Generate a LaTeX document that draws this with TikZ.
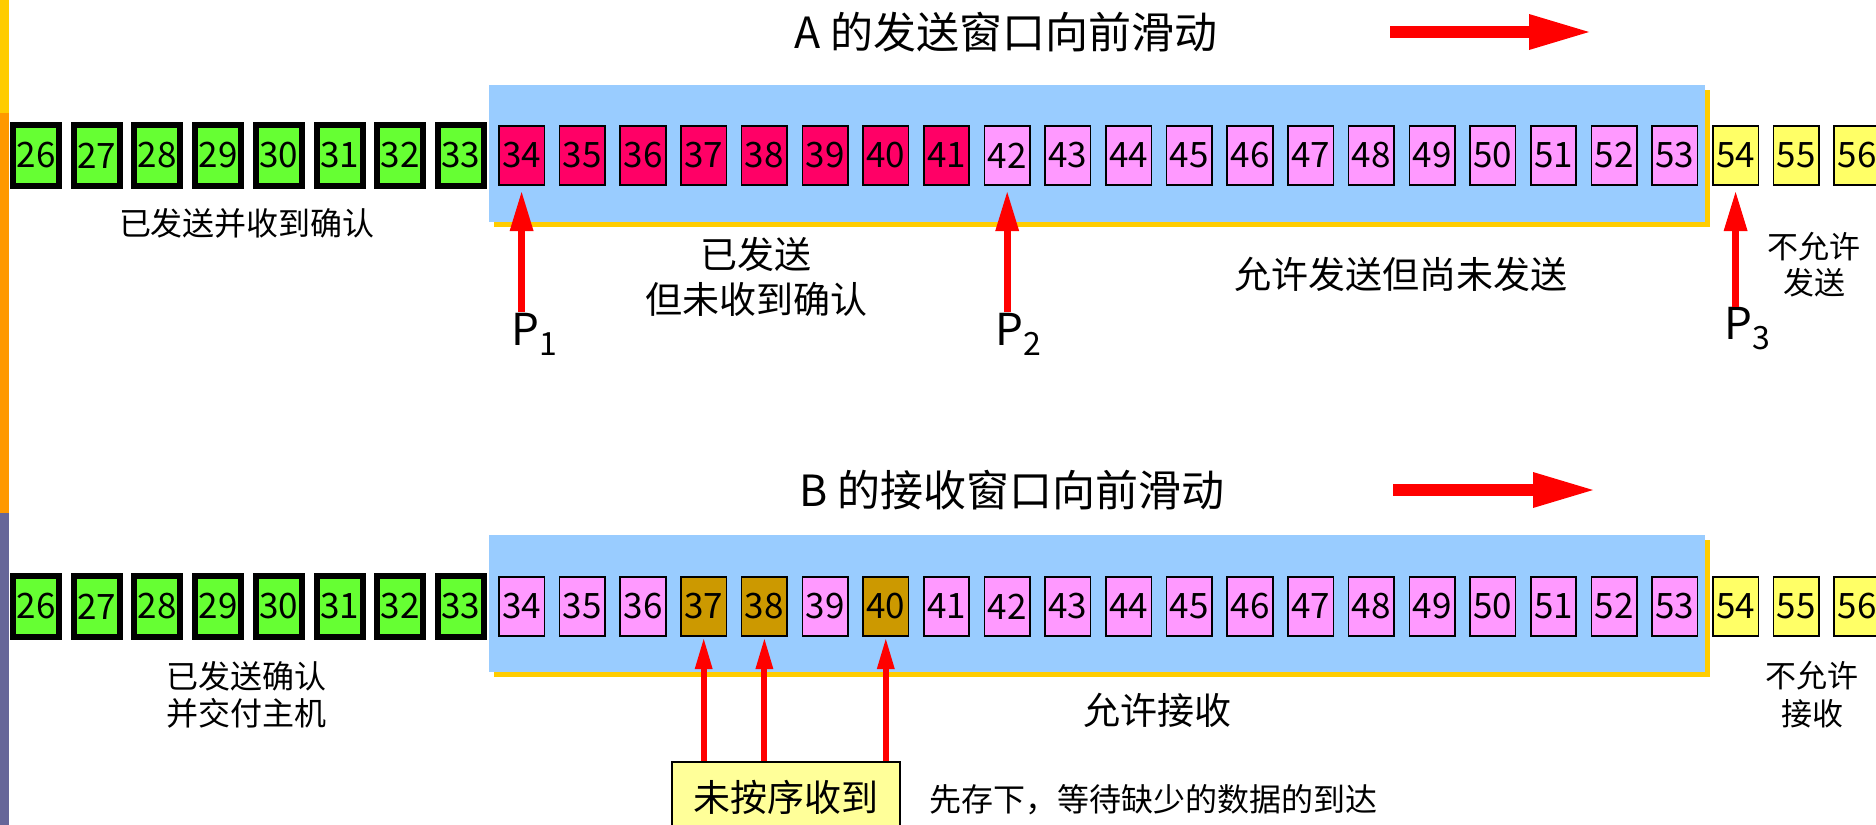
\documentclass[tikz,border=0pt]{standalone}
\usepackage{fontspec}
\newfontfamily\cjk{Noto Sans CJK SC}
\usetikzlibrary{arrows.meta}
\definecolor{gbox}{HTML}{66FF33}
\definecolor{rbox}{HTML}{FF0066}
\definecolor{pbox}{HTML}{FF99FF}
\definecolor{ybox}{HTML}{FFFF66}
\definecolor{obox}{HTML}{CC9900}
\definecolor{winblue}{HTML}{99CCFF}
\definecolor{shadowy}{HTML}{FFCC00}
\definecolor{barY}{HTML}{FFCC00}
\definecolor{barO}{HTML}{FF9900}
\definecolor{barP}{HTML}{666699}
\definecolor{lblY}{HTML}{FFFF99}
\newcommand\fsz[2]{\cjk\fontsize{#1}{#2}\selectfont}
\begin{document}
\begin{tikzpicture}[x=0.5pt,y=-0.5pt,
  seq/.style={draw=black, line width=0.8pt, minimum width=22.75pt, minimum height=29.75pt, inner sep=0pt, font=\fsz{17.5pt}{17.5pt}},
  done/.style={seq, fill=gbox, line width=3pt, minimum width=23pt, minimum height=30.5pt},
  sent/.style={seq, fill=rbox},
  avail/.style={seq, fill=pbox},
  got/.style={seq, fill=obox},
  blocked/.style={seq, fill=ybox},
  txt/.style={inner sep=0pt, align=center},
  plabel/.style={inner sep=0pt, anchor=base west, font=\fsz{22pt}{22pt}},
  parrow/.style={draw=red, line width=3.5pt, -{Triangle[length=19.5pt,width=12pt,line width=0pt]}, shorten >=3pt},
  sarrow/.style={draw=red, line width=3pt, -{Triangle[length=15pt,width=9pt,line width=0pt]}, shorten >=1pt},
  barrow/.style={draw=red, line width=6pt, -{Triangle[length=30pt,width=18pt,line width=0pt]}},
]
\useasboundingbox (0,0) rectangle (1876,825);
\clip (0,0) rectangle (1876,825);
% left bar
\fill[barY] (0,0) rectangle (9,113);
\fill[barO] (0,113) rectangle (9,513);
\fill[barP] (0,513) rectangle (9,825);

% ===== top: sender window =====
\node[txt, font=\fsz{21.5pt}{21.5pt}] (titleA) at (1006,32) {A 的发送窗口向前滑动};
\coordinate (mA0) at (1390,32);
\coordinate (mA1) at (1589,32);
\draw[barrow] (mA0) -- (mA1);

\fill[shadowy] (494,90) rectangle (1710,227);
\fill[winblue] (489,85) rectangle (1705,222);

\foreach \n in {26,...,33} \node[done] (a\n) at ({36+(\n-26)*60.7},155.5) {\n};
\foreach \n in {34,...,41} \node[sent] (a\n) at ({36+(\n-26)*60.7},155.5) {\n};
\foreach \n in {42,...,53} \node[avail] (a\n) at ({36+(\n-26)*60.7},155.5) {\n};
\foreach \n in {54,55,56} \node[blocked] (a\n) at ({36+(\n-26)*60.7},155.5) {\n};

\node[txt, font=\fsz{16pt}{16pt}] (lDone) at (247,223) {已发送并收到确认};
\node[txt, font=\fsz{18.5pt}{22.5pt}] (lSent) at (756,277) {已发送\\但未收到确认};
\node[txt, font=\fsz{18.5pt}{18.5pt}] (lAvail) at (1401,274) {允许发送但尚未发送};
\node[txt, font=\fsz{15.5pt}{18pt}] (lNo) at (1814,265) {不允许\\发送};

\node[plabel] (P1) at (511,345) {P\raisebox{-5pt}{\fontsize{16pt}{16pt}\selectfont 1}};
\node[plabel] (P2) at (995,345) {P\raisebox{-5pt}{\fontsize{16pt}{16pt}\selectfont 2}};
\node[plabel] (P3) at (1724,339) {P\raisebox{-5pt}{\fontsize{16pt}{16pt}\selectfont 3}};
\coordinate (t1) at ([yshift=-63pt]a34.south);
\coordinate (t2) at ([yshift=-63pt]a42.south);
\coordinate (t3) at ([yshift=-60.5pt]a54.south);
\draw[parrow] (t1) -- (a34.south);
\draw[parrow] (t2) -- (a42.south);
\draw[parrow] (t3) -- (a54.south);

% ===== bottom: receiver window =====
\node[txt, font=\fsz{21.5pt}{21.5pt}] (titleB) at (1012,490) {B 的接收窗口向前滑动};
\coordinate (mB0) at (1393,490);
\coordinate (mB1) at (1593,490);
\draw[barrow] (mB0) -- (mB1);

\fill[shadowy] (494,540) rectangle (1710,677);
\fill[winblue] (489,535) rectangle (1705,672);

\foreach \n in {26,...,33} \node[done] (b\n) at ({36+(\n-26)*60.7},606.5) {\n};
\foreach \n in {34,35,36,39} \node[avail] (b\n) at ({36+(\n-26)*60.7},606.5) {\n};
\foreach \n in {37,38,40} \node[got] (b\n) at ({36+(\n-26)*60.7},606.5) {\n};
\foreach \n in {41,...,53} \node[avail] (b\n) at ({36+(\n-26)*60.7},606.5) {\n};
\foreach \n in {54,55,56} \node[blocked] (b\n) at ({36+(\n-26)*60.7},606.5) {\n};

\node[txt, font=\fsz{16pt}{18.5pt}] (lDel) at (246,695) {已发送确认\\并交付主机};
\node[txt, font=\fsz{18.5pt}{18.5pt}] (lRecv) at (1157,710) {允许接收};
\node[txt, font=\fsz{15.5pt}{19pt}] (lNoR) at (1812,695) {不允许\\接收};

\node[draw=black, line width=0.8pt, fill=lblY, minimum width=114pt, minimum height=35pt, inner sep=0pt, font=\fsz{18.5pt}{18.5pt}] (ooo) at (786,797) {未按序收到};
\node[txt, font=\fsz{16pt}{16pt}] (note) at (1153,800) {先存下，等待缺少的数据的到达};
\draw[sarrow] (b37.south |- ooo.north) -- (b37.south);
\draw[sarrow] (b38.south |- ooo.north) -- (b38.south);
\draw[sarrow] (b40.south |- ooo.north) -- (b40.south);
\end{tikzpicture}
\end{document}
